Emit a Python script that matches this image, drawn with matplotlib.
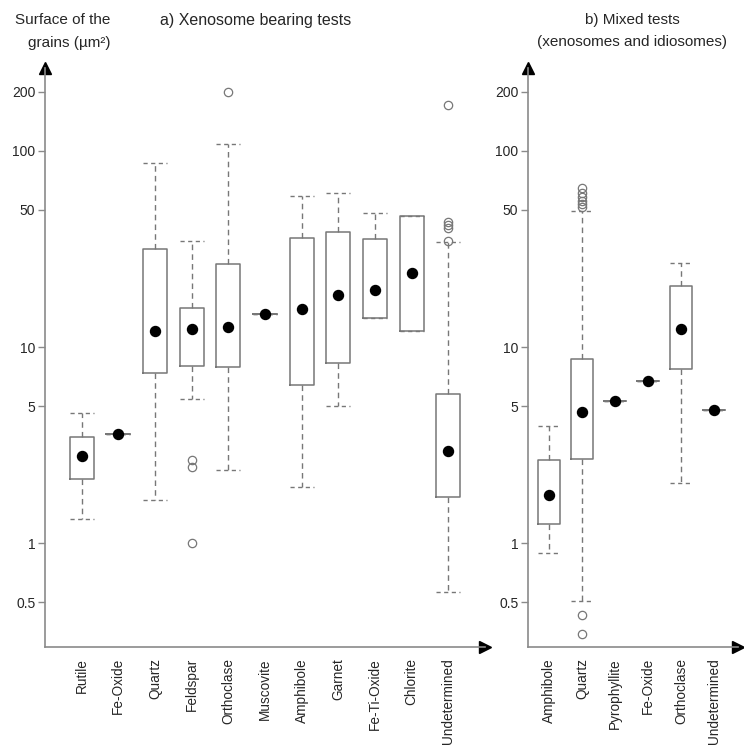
import matplotlib
matplotlib.use("Agg")
import matplotlib.pyplot as plt

plt.rcParams["font.family"] = ["Liberation Sans", "DejaVu Sans"]

# a) xenosome bearing tests
cats_a = ["Rutile", "Fe-Oxide", "Quartz", "Feldspar", "Orthoclase", "Muscovite",
          "Amphibole", "Garnet", "Fe-Ti-Oxide", "Chlorite", "Undetermined"]
whislo_a = [1.32, 3.6, 1.65, 5.4, 2.36, 14.7, 1.94, 5.0, 14.0, 12.1, 0.565]
q1_a = [2.12, 3.6, 7.4, 8.0, 7.9, 14.7, 6.4, 8.3, 14.0, 12.1, 1.72]
med_a = [2.78, 3.6, 12.0, 12.3, 12.6, 14.7, 15.6, 18.4, 19.5, 23.8, 2.94]
q3_a = [3.49, 3.6, 31.8, 15.8, 26.5, 14.7, 36.1, 38.5, 35.6, 46.6, 5.76]
whishi_a = [4.6, 3.6, 86.5, 34.7, 109, 14.7, 58.9, 60.8, 48.1, 46.6, 34.5]
fliers_a = [[], [], [], [2.65, 2.45, 1.0], [201], [], [], [], [], [],
            [172, 43.6, 41.9, 40.3, 34.9]]

# b) mixed tests
cats_b = ["Amphibole", "Quartz", "Pyrophyllite", "Fe-Oxide", "Orthoclase", "Undetermined"]
whislo_b = [0.893, 0.506, 5.32, 6.73, 2.02, 4.77]
q1_b = [1.25, 2.68, 5.32, 6.73, 7.7, 4.77]
med_b = [1.76, 4.68, 5.32, 6.73, 12.3, 4.77]
q3_b = [2.65, 8.68, 5.32, 6.73, 20.5, 4.77]
whishi_b = [3.97, 49.4, 5.32, 6.73, 26.7, 4.77]
fliers_b = [[], [64.5, 61, 58, 55.5, 53.5, 52, 0.429, 0.343], [], [], [], []]

yticks = [0.5, 1, 5, 10, 50, 100, 200]

GREY = "#777777"
AXGREY = "#8a8a8a"
TXT = "#262626"
W, H = 744, 745


def draw_panel(rect, cats, whislo, q1, med, q3, whishi, fliers, xlim, width):
    fig = plt.gcf()
    ax = fig.add_axes(rect)
    stats = []
    for i in range(len(cats)):
        stats.append(dict(whislo=whislo[i], q1=q1[i], med=med[i], q3=q3[i],
                          whishi=whishi[i], fliers=fliers[i]))
    pos = list(range(1, len(cats) + 1))
    ax.bxp(stats, positions=pos, widths=width, capwidths=width,
           boxprops=dict(color=GREY, linewidth=1.1),
           whiskerprops=dict(color=GREY, linewidth=1.0, linestyle=(0, (4, 3))),
           capprops=dict(color=GREY, linewidth=1.0, linestyle=(0, (3, 2.5))),
           medianprops=dict(linewidth=0),
           flierprops=dict(marker="o", markerfacecolor="none",
                           markeredgecolor=GREY, markersize=6, markeredgewidth=0.9))
    ax.plot(pos, med, "o", color="black", markersize=7.2, zorder=5)
    ax.set_yscale("log")
    ax.set_ylim(0.295, 265)
    ax.set_xlim(*xlim)
    ax.set_yticks(yticks, [f"{t:g}" for t in yticks])
    ax.minorticks_off()
    ax.set_xticks(pos, cats, rotation=90)
    ax.tick_params(axis="x", length=0, pad=8, labelsize=9.8, labelcolor=TXT)
    ax.tick_params(axis="y", length=5, width=1, color=AXGREY, pad=2, labelsize=10,
                   labelcolor=TXT)
    for s in ["top", "right"]:
        ax.spines[s].set_visible(False)
    for s in ["left", "bottom"]:
        ax.spines[s].set_color(AXGREY)
        ax.spines[s].set_linewidth(1.2)
    ax.plot([0], [1], "^", color="black", markersize=8, transform=ax.transAxes, clip_on=False)
    ax.plot([1], [0], ">", color="black", markersize=8, transform=ax.transAxes, clip_on=False)
    ax.patch.set_alpha(0)
    return ax


fig = plt.figure(figsize=(W / 100, H / 100), dpi=100)

bottom = (H - 647) / H
height = (647 - 68) / H
draw_panel([45 / W, bottom, (485 - 45) / W, height], cats_a, whislo_a, q1_a, med_a,
           q3_a, whishi_a, fliers_a, (0.0, 12.0), 0.66)
draw_panel([528 / W, bottom, (738 - 528) / W, height], cats_b, whislo_b, q1_b, med_b,
           q3_b, whishi_b, fliers_b, (0.36, 6.73), 0.67)

fig.text(110 / W, 1 - 20 / H, "Surface of the", ha="right", va="center",
         fontsize=11, color=TXT)
fig.text(110 / W, 1 - 43 / H, "grains (µm²)", ha="right", va="center",
         fontsize=11, color=TXT)
fig.text(160 / W, 1 - 20 / H, "a) Xenosome bearing tests", ha="left", va="center",
         fontsize=11.5, color=TXT)
fig.text(632 / W, 1 - 20 / H, "b) Mixed tests", ha="center", va="center",
         fontsize=11, color=TXT)
fig.text(632 / W, 1 - 42 / H, "(xenosomes and idiosomes)", ha="center", va="center",
         fontsize=11, color=TXT)

fig.savefig("out.png", dpi=100)
